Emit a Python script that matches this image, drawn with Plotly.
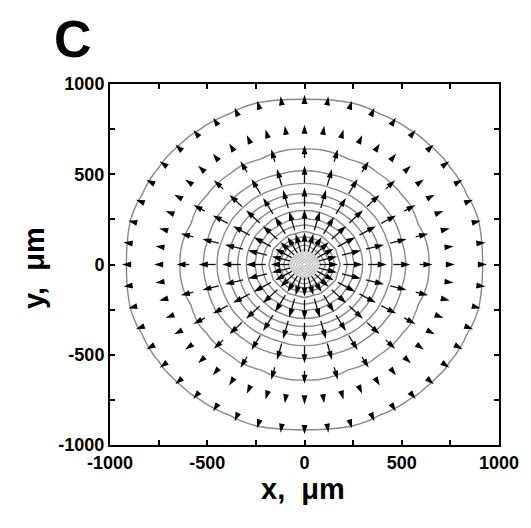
import numpy as np
import plotly.graph_objects as go

# ---- data ----
# radii (µm) of the contour rings, inner to outer
ring_radii = [14, 28, 42, 56, 70, 84, 102, 124, 150, 180, 215, 255, 298, 343, 390, 445, 515, 620, 915]
n_light_rings = 6  # innermost faint diamond-shaped rings

# arrow (gradient) field on a polar lattice
arrow_ring_radii = [125, 250, 375, 500, 625, 750, 915]
arrow_ring_counts = [24, 24, 24, 24, 24, 48, 48]
arrow_ring_magnitude = [1.05, 1.1, 1.05, 0.95, 0.72, 0.5, 0.42]

tick_values = [-1000, -750, -500, -250, 0, 250, 500, 750, 1000]
tick_labels = ['-1000', '', '-500', '', '0', '', '500', '', '1000']

# ---- layout geometry (page has an 8px body margin) ----
OFF = 8
W, H = 531 - OFF, 528 - OFF
ML, MT = 110 - OFF, 84 - OFF
PW, PH = 394, 361
MR, MB = W - ML - PW, H - MT - PH
px_x = PW / 2000.0
px_y = PH / 2000.0
FONT = "Liberation Sans, Arial, sans-serif"


def paper_x(page_px):
    return (page_px - OFF - ML) / PW


def paper_y(page_py):
    return (MT + PH - (page_py - OFF)) / PH


# ---- contour field built from the ring radii (coarse mesh -> diamond core) ----
g = np.linspace(-1000, 1000, 25)
X, Y = np.meshgrid(g, g)
R = np.hypot(X, Y)
n = len(ring_radii)
Z = np.interp(R, [0] + ring_radii + [1500], [-1] + list(range(n)) + [n])

fig = go.Figure()
light = (n_light_rings - 1) / (n - 1)
fig.add_trace(go.Contour(
    x=g, y=g, z=Z,
    contours=dict(start=0, end=n - 1, size=1, coloring='lines'),
    colorscale=[[0, '#b8b8b8'], [light + 0.005, '#b8b8b8'], [light + 0.03, '#888888'], [1, '#888888']],
    zmin=0, zmax=n - 1,
    line=dict(width=1.4, smoothing=0.6),
    showscale=False, hoverinfo='skip',
))

# ---- arrows ----
SCALE_PX = 18.0
HEAD_PX = 9.0
sx, sy, hx, hy, ha = [], [], [], [], []
for r, cnt, mag in zip(arrow_ring_radii, arrow_ring_counts, arrow_ring_magnitude):
    for k in range(cnt):
        th = 2 * np.pi * k / cnt
        cx, cy = r * np.cos(th), r * np.sin(th)
        phi = np.arctan2(np.sin(th) * px_y, np.cos(th) * px_x)
        ux, uy = np.cos(phi) / px_x, np.sin(phi) / px_y
        L = max(mag * SCALE_PX, HEAD_PX)
        tipx, tipy = cx + ux * L / 2, cy + uy * L / 2
        tailx, taily = cx - ux * L / 2, cy - uy * L / 2
        if L > HEAD_PX + 1:
            sx += [tailx, tipx - ux * 4, None]
            sy += [taily, tipy - uy * 4, None]
        hx.append(tipx)
        hy.append(tipy)
        ha.append(90 - np.degrees(phi))

fig.add_trace(go.Scatter(x=sx, y=sy, mode='lines', line=dict(color='#111111', width=1.3),
                         hoverinfo='skip', showlegend=False))
fig.add_trace(go.Scatter(x=hx, y=hy, mode='markers',
                         marker=dict(symbol='arrow', size=9.5, angle=ha, color='black',
                                     line=dict(width=0)),
                         hoverinfo='skip', showlegend=False))

axis_common = dict(
    range=[-1000, 1000], tickvals=tick_values, ticktext=tick_labels,
    ticks='inside', ticklen=5, tickwidth=1.5, tickcolor='black',
    showline=True, linecolor='black', linewidth=2, mirror='ticks',
    showgrid=False, zeroline=False,
    tickfont=dict(family=FONT, size=18, color='black', weight='bold'),
)
fig.update_xaxes(**axis_common)
fig.update_yaxes(**axis_common)

fig.update_layout(
    width=W, height=H,
    margin=dict(l=ML, r=MR, t=MT, b=MB),
    paper_bgcolor='white', plot_bgcolor='white',
    showlegend=False,
    annotations=[
        dict(text='C', x=paper_x(73), y=1 + MT / PH, xref='paper', yref='paper',
             xanchor='center', yanchor='top', showarrow=False,
             font=dict(family=FONT, size=52, color='black', weight='bold')),
        dict(text='x,\u00a0 \u03bcm', x=paper_x(305), y=paper_y(489), xref='paper', yref='paper',
             xanchor='center', yanchor='middle', showarrow=False,
             font=dict(family=FONT, size=29, color='black', weight='bold')),
        dict(text='y,\u00a0 \u03bcm', x=paper_x(33), y=paper_y(268), xref='paper', yref='paper',
             xanchor='center', yanchor='middle', showarrow=False, textangle=-90,
             font=dict(family=FONT, size=29, color='black', weight='bold')),
    ],
)

fig.write_html("out.html")
